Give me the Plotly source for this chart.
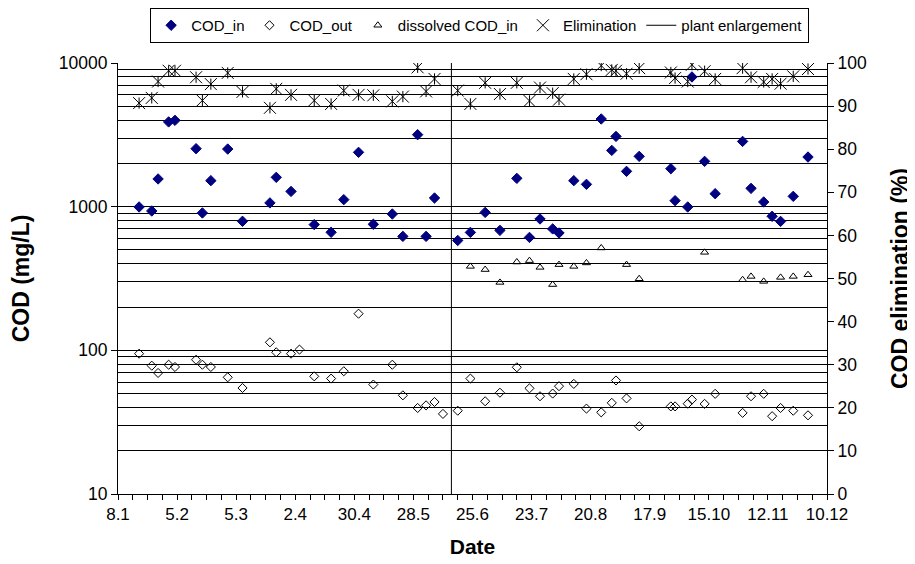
import plotly.graph_objects as go

# ---------------- data ----------------
cod_in_dates = ["2005-01-18", "2005-01-24", "2005-01-27", "2005-02-01", "2005-02-04", "2005-02-14",
                "2005-02-17", "2005-02-21", "2005-03-01", "2005-03-08", "2005-03-21", "2005-03-24",
                "2005-03-31", "2005-04-11", "2005-04-19", "2005-04-25", "2005-05-02", "2005-05-09",
                "2005-05-18", "2005-05-23", "2005-05-30", "2005-06-03", "2005-06-07", "2005-06-18",
                "2005-06-24", "2005-07-01", "2005-07-08", "2005-07-16", "2005-07-22", "2005-07-27",
                "2005-08-02", "2005-08-05", "2005-08-12", "2005-08-18", "2005-08-25", "2005-08-30",
                "2005-09-01", "2005-09-06", "2005-09-12", "2005-09-27", "2005-09-29", "2005-10-05",
                "2005-10-07", "2005-10-13", "2005-10-18", "2005-10-31", "2005-11-04", "2005-11-10",
                "2005-11-14", "2005-11-18", "2005-11-24", "2005-12-01"]
cod_in = [995, 933, 1559, 3890, 3990, 2533,
          904, 1517, 2518, 791, 1062, 1600,
          1277, 750, 663, 1119, 2389, 754,
          889, 621, 3170, 621, 1149, 582,
          662, 912, 684, 1574, 611, 821,
          700, 656, 1517, 1430, 4077, 2464,
          3084, 1761, 2240, 1838, 1101, 995,
          7993, 2067, 1231, 2846, 1341, 1078,
          857, 790, 1180, 2216]

elimination = [90.7, 91.9, 95.7, 98.2, 98.2, 96.7,
               91.3, 95.1, 97.7, 93.3, 89.6, 94.0,
               92.6, 91.3, 90.5, 93.6, 92.6, 92.5,
               91.1, 92.2, 99.0, 93.4, 96.3, 93.6,
               90.5, 95.4, 92.8, 95.4, 91.2, 94.3,
               93.0, 91.5, 96.3, 97.4, 99.4, 98.4,
               98.2, 97.5, 98.8, 97.8, 96.5, 95.7,
               99.6, 98.1, 96.3, 98.8, 96.7, 95.6,
               96.3, 95.2, 96.9, 98.6]

cod_out_dates = ["2005-01-18", "2005-01-24", "2005-01-27", "2005-02-01", "2005-02-04", "2005-02-14",
                 "2005-02-17", "2005-02-21", "2005-03-01", "2005-03-08", "2005-03-21", "2005-03-24",
                 "2005-03-31", "2005-04-04", "2005-04-11", "2005-04-19", "2005-04-25", "2005-05-02",
                 "2005-05-09", "2005-05-18", "2005-05-23", "2005-05-30", "2005-06-03", "2005-06-07",
                 "2005-06-11", "2005-06-18", "2005-06-24", "2005-07-01", "2005-07-08", "2005-07-16",
                 "2005-07-22", "2005-07-27", "2005-08-02", "2005-08-05", "2005-08-12", "2005-08-18",
                 "2005-08-25", "2005-08-30", "2005-09-01", "2005-09-06", "2005-09-12", "2005-09-27",
                 "2005-09-29", "2005-10-05", "2005-10-07", "2005-10-13", "2005-10-18", "2005-10-31",
                 "2005-11-04", "2005-11-10", "2005-11-14", "2005-11-18", "2005-11-24", "2005-12-01"]
cod_out = [94.8, 78.2, 69.6, 79.4, 76.6, 86.0,
           79.4, 76.6, 64.9, 54.7, 113.7, 96.9,
           94.8, 101.2, 65.9, 63.6, 71.5, 179.9,
           57.8, 79.4, 48.6, 39.7, 41.4, 43.7,
           36.1, 38.0, 63.6, 44.2, 50.7, 76.2,
           54.4, 47.9, 50.0, 56.3, 58.4, 39.3,
           37.0, 43.1, 61.7, 46.3, 29.6, 40.7,
           40.7, 42.5, 45.4, 42.4, 49.8, 36.7,
           47.9, 49.8, 34.8, 39.7, 38.0, 35.3]

dis_dates = ["2005-06-24", "2005-07-01", "2005-07-08", "2005-07-16", "2005-07-22", "2005-07-27",
             "2005-08-02", "2005-08-05", "2005-08-12", "2005-08-18", "2005-08-25", "2005-09-06",
             "2005-09-12", "2005-10-13", "2005-10-31", "2005-11-04", "2005-11-10", "2005-11-18",
             "2005-11-24", "2005-12-01"]
dis_cod_in = [384, 365, 297, 412, 421, 378,
              287, 395, 384, 406, 516, 395,
              315, 481, 310, 327, 302, 322,
              327, 336]

enlargement_date = "2005-06-15"

tick_dates = ["2005-01-08", "2005-02-05", "2005-03-05", "2005-04-02", "2005-04-30", "2005-05-28",
              "2005-06-25", "2005-07-23", "2005-08-20", "2005-09-17", "2005-10-15", "2005-11-12",
              "2005-12-10"]
tick_labels = ["8.1", "5.2", "5.3", "2.4", "30.4", "28.5", "25.6", "23.7", "20.8", "17.9",
               "15.10", "12.11", "10.12"]

cod_tick_vals = [10, 100, 1000, 10000]
cod_tick_labels = ["10", "100", "1000", "10000"]

# ---------------- figure ----------------
# The page body adds an 8 px margin, so the figure is sized 8 px smaller each way.
FONT = "Liberation Sans, Arial, sans-serif"
fig = go.Figure()

fig.add_trace(go.Scatter(x=cod_in_dates, y=cod_in, mode="markers", name="COD_in",
                         marker=dict(symbol="diamond", size=8, color="#000080",
                                     line=dict(color="#000080", width=1))))
fig.add_trace(go.Scatter(x=cod_out_dates, y=cod_out, mode="markers", name="COD_out",
                         marker=dict(symbol="diamond-open", size=7, color="black",
                                     line=dict(color="black", width=1))))
fig.add_trace(go.Scatter(x=dis_dates, y=dis_cod_in, mode="markers", name="dissolved COD_in",
                         marker=dict(symbol="triangle-up-open", size=7, color="black",
                                     line=dict(color="black", width=1))))
fig.add_trace(go.Scatter(x=cod_in_dates, y=elimination, mode="markers", name="Elimination",
                         yaxis="y2", legendgroup="elim",
                         marker=dict(symbol="x-thin-open", size=12, color="black",
                                     line=dict(color="black", width=1))))
fig.add_trace(go.Scatter(x=cod_in_dates, y=elimination, mode="markers", name="Elimination",
                         yaxis="y2", legendgroup="elim", showlegend=False,
                         marker=dict(symbol="line-ns-open", size=8, color="black",
                                     line=dict(color="black", width=1))))
fig.add_trace(go.Scatter(x=[enlargement_date, enlargement_date], y=[10, 10000], mode="lines",
                         name="plant enlargement", line=dict(color="black", width=1)))

fig.update_layout(
    width=907, height=556,
    margin=dict(l=110, r=88, t=55, b=70, autoexpand=False),
    paper_bgcolor="white", plot_bgcolor="white",
    font=dict(family=FONT, size=17, color="black"),
    showlegend=True,
    legend=dict(orientation="h", xref="container", yref="container",
                x=0.52, xanchor="center", y=1.0, yanchor="top",
                bordercolor="black", borderwidth=1, font=dict(size=15, family=FONT),
                itemwidth=30, traceorder="normal"),
    xaxis=dict(type="date", range=["2005-01-08", "2005-12-10"], automargin=False,
               tickmode="array", tickvals=tick_dates, ticktext=tick_labels,
               ticks="outside", ticklen=5, tickcolor="black",
               minor=dict(ticks="outside", ticklen=5, tickcolor="black",
                          tick0="2005-01-08", dtick=7 * 86400000),
               showline=True, linecolor="black", linewidth=1, showgrid=False, zeroline=False,
               tickfont=dict(size=17),
               title=dict(text="<b>Date</b>", font=dict(size=21), standoff=15)),
    yaxis=dict(type="log", range=[1, 4], automargin=False,
               tickmode="array", tickvals=cod_tick_vals, ticktext=cod_tick_labels,
               ticks="outside", ticklen=6, tickcolor="black",
               showline=True, linecolor="black", linewidth=1,
               showgrid=True, gridcolor="black", gridwidth=1,
               minor=dict(showgrid=True, gridcolor="black", gridwidth=1, dtick="D1", ticks=""),
               tickfont=dict(size=17.5),
               title=dict(text="<b>COD (mg/L)</b>", font=dict(size=23), standoff=30)),
    yaxis2=dict(overlaying="y", side="right", range=[0, 100], dtick=10, automargin=False,
                ticks="outside", ticklen=6, tickcolor="black",
                showline=True, linecolor="black", linewidth=1,
                showgrid=False, zeroline=False,
                tickfont=dict(size=17.5),
                title=dict(text="<b>COD elimination (%)</b>", font=dict(size=23), standoff=25)),
)

fig.write_html("out.html")
